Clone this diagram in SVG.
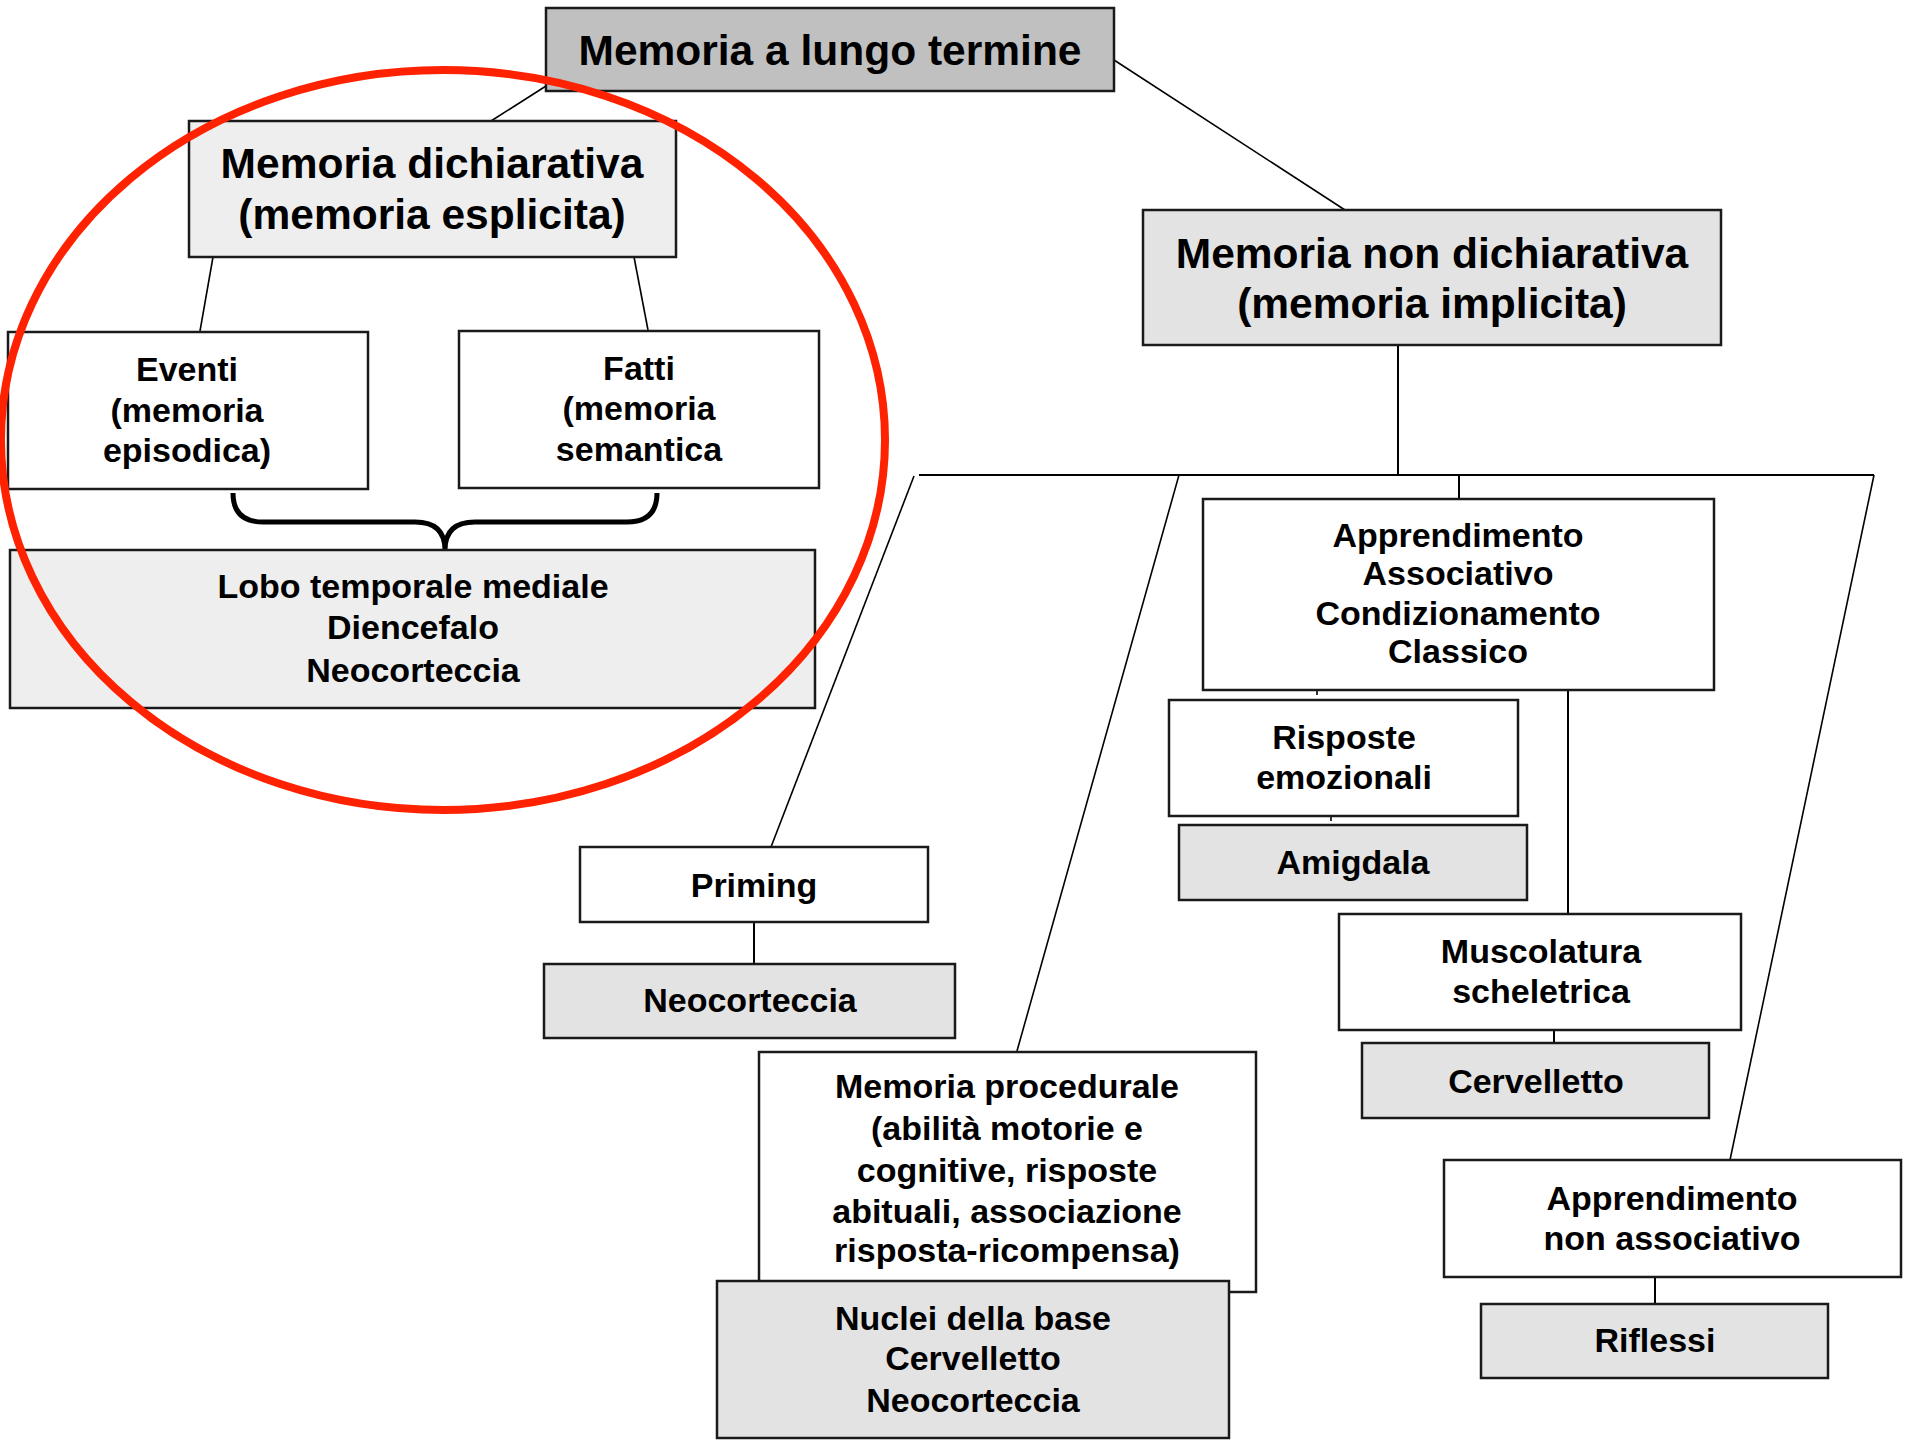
<svg xmlns="http://www.w3.org/2000/svg" width="1905" height="1440" viewBox="0 0 1905 1440">
<style>
  .box { stroke: #1a1a1a; stroke-width: 2.5; }
  .w { fill: #ffffff; }
  .g1 { fill: #c0c0c0; }
  .g2 { fill: #eeeeee; }
  .g3 { fill: #e3e3e3; }
  text { font-family: "Liberation Sans", Arial, sans-serif; font-weight: bold; fill: #000; text-anchor: middle; }
  .big { font-size: 42.5px; }
  .sm { font-size: 34px; }
  .conn line { stroke: #000; stroke-width: 2; }
  .conn .thin { stroke-width: 1.6; }
</style>
<rect width="1905" height="1440" fill="#ffffff"/>

<g id="connectors" class="conn">
  <line class="thin" x1="546" y1="86" x2="491" y2="121"/>
  <line class="thin" x1="1114" y1="60" x2="1345" y2="210"/>
  <line class="thin" x1="213" y1="257" x2="200" y2="331"/>
  <line class="thin" x1="634" y1="257" x2="648" y2="330"/>
  <line x1="1398" y1="345" x2="1398" y2="475"/>
  <line x1="919" y1="475" x2="1874" y2="475"/>
  <line x1="1459" y1="475" x2="1459" y2="499"/>
  <line class="thin" x1="914" y1="476" x2="771" y2="847"/>
  <line class="thin" x1="1179" y1="475" x2="1017" y2="1051"/>
  <line class="thin" x1="1874" y1="475" x2="1730" y2="1160"/>
  <line x1="1568" y1="690" x2="1568" y2="914"/>
  <line class="thin" x1="1317" y1="690" x2="1317" y2="695"/>
  <line class="thin" x1="1331" y1="816" x2="1331" y2="821"/>
  <line x1="754" y1="922" x2="754" y2="963"/>
  <line x1="1554" y1="1030" x2="1554" y2="1043"/>
  <line x1="1655" y1="1277" x2="1655" y2="1304"/>
  <path d="M233,493 Q233,522 263,522 L415,522 Q445,522 445,550 Q445,522 475,522 L627,522 Q657,522 657,493" fill="none" stroke="#000" stroke-width="5"/>
</g>

<g id="n-lungo">
  <rect class="box g1" x="546" y="8" width="568" height="83"/>
  <text class="big" x="830" y="65">Memoria a lungo termine</text>
</g>

<g id="n-dichiarativa">
  <rect class="box g2" x="189" y="121" width="487" height="136"/>
  <text class="big" x="432" y="178">Memoria dichiarativa</text>
  <text class="big" x="432" y="229">(memoria esplicita)</text>
</g>

<g id="n-eventi">
  <rect class="box w" x="8" y="332" width="360" height="157"/>
  <text class="sm" x="187" y="381">Eventi</text>
  <text class="sm" x="187" y="422">(memoria</text>
  <text class="sm" x="187" y="462">episodica)</text>
</g>

<g id="n-fatti">
  <rect class="box w" x="459" y="331" width="360" height="157"/>
  <text class="sm" x="639" y="380">Fatti</text>
  <text class="sm" x="639" y="420">(memoria</text>
  <text class="sm" x="639" y="461">semantica</text>
</g>

<g id="n-lobo">
  <rect class="box g2" x="10" y="550" width="805" height="158"/>
  <text class="sm" x="413" y="598">Lobo temporale mediale</text>
  <text class="sm" x="413" y="639">Diencefalo</text>
  <text class="sm" x="413" y="682">Neocorteccia</text>
</g>

<g id="n-nondich">
  <rect class="box g3" x="1143" y="210" width="578" height="135"/>
  <text class="big" x="1432" y="268">Memoria non dichiarativa</text>
  <text class="big" x="1432" y="318">(memoria implicita)</text>
</g>

<g id="n-associativo">
  <rect class="box w" x="1203" y="499" width="511" height="191"/>
  <text class="sm" x="1458" y="547">Apprendimento</text>
  <text class="sm" x="1458" y="585">Associativo</text>
  <text class="sm" x="1458" y="625">Condizionamento</text>
  <text class="sm" x="1458" y="663">Classico</text>
</g>

<g id="n-risposte">
  <rect class="box w" x="1169" y="700" width="349" height="116"/>
  <text class="sm" x="1344" y="749">Risposte</text>
  <text class="sm" x="1344" y="789">emozionali</text>
</g>

<g id="n-amigdala">
  <rect class="box g3" x="1179" y="825" width="348" height="75"/>
  <text class="sm" x="1353" y="874">Amigdala</text>
</g>

<g id="n-priming">
  <rect class="box w" x="580" y="847" width="348" height="75"/>
  <text class="sm" x="754" y="897">Priming</text>
</g>

<g id="n-neocorteccia">
  <rect class="box g3" x="544" y="964" width="411" height="74"/>
  <text class="sm" x="750" y="1012">Neocorteccia</text>
</g>

<g id="n-muscolatura">
  <rect class="box w" x="1339" y="914" width="402" height="116"/>
  <text class="sm" x="1541" y="963">Muscolatura</text>
  <text class="sm" x="1541" y="1003">scheletrica</text>
</g>

<g id="n-cervelletto">
  <rect class="box g3" x="1362" y="1043" width="347" height="75"/>
  <text class="sm" x="1536" y="1093">Cervelletto</text>
</g>

<g id="n-procedurale">
  <rect class="box w" x="759" y="1052" width="497" height="240"/>
  <text class="sm" x="1007" y="1098">Memoria procedurale</text>
  <text class="sm" x="1007" y="1140">(abilità motorie e</text>
  <text class="sm" x="1007" y="1182">cognitive, risposte</text>
  <text class="sm" x="1007" y="1223">abituali, associazione</text>
  <text class="sm" x="1007" y="1262">risposta-ricompensa)</text>
</g>

<g id="n-nuclei">
  <rect class="box g3" x="717" y="1281" width="512" height="157"/>
  <text class="sm" x="973" y="1330">Nuclei della base</text>
  <text class="sm" x="973" y="1370">Cervelletto</text>
  <text class="sm" x="973" y="1412">Neocorteccia</text>
</g>

<g id="n-nonassociativo">
  <rect class="box w" x="1444" y="1160" width="457" height="117"/>
  <text class="sm" x="1672" y="1210">Apprendimento</text>
  <text class="sm" x="1672" y="1250">non associativo</text>
</g>

<g id="n-riflessi">
  <rect class="box g3" x="1481" y="1304" width="347" height="74"/>
  <text class="sm" x="1655" y="1352">Riflessi</text>
</g>

<g id="highlight">
  <ellipse cx="443" cy="440" rx="442" ry="370" fill="none" stroke="#ff2200" stroke-width="8"/>
</g>
</svg>
